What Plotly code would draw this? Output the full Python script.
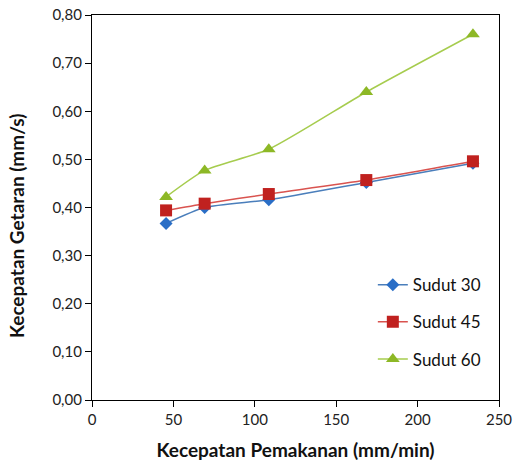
import plotly.graph_objects as go

feed_rate = [45.5, 69.2, 108.6, 168.5, 234.0]
sudut_30 = [0.367, 0.400, 0.416, 0.452, 0.492]
sudut_45 = [0.394, 0.408, 0.428, 0.457, 0.496]
sudut_60 = [0.422, 0.477, 0.521, 0.640, 0.760]

series = [
    ("Sudut 30", sudut_30, "#2A6EC6", "#4A7EBB", "diamond", 10),
    ("Sudut 45", sudut_45, "#C0211F", "#D9534F", "square", 12),
    ("Sudut 60", sudut_60, "#8DB826", "#A6CC4E", "triangle-up", 12),
]

FONT = "Lato"
fig = go.Figure()
for i, (name, vals, mcol, lcol, sym, sz) in enumerate(series):
    fig.add_trace(go.Scatter(
        x=feed_rate, y=vals, name=name, mode="lines+markers",
        line=dict(color=lcol, width=1.5, shape="spline", smoothing=0.6),
        marker=dict(symbol=sym, size=sz, color=mcol),
        legendgroup=f"g{i}",
    ))

fig.add_annotation(
    text="<b>Kecepatan Getaran (mm/s)</b>", textangle=-90,
    xref="paper", yref="paper", x=-0.184, y=0.452,
    xanchor="center", yanchor="middle", showarrow=False,
    font=dict(family=FONT, size=19, color="#111111"),
)

fig.update_layout(
    width=515, height=466,
    margin=dict(l=92, r=16, t=15, b=66),
    paper_bgcolor="white", plot_bgcolor="white",
    separators=",.",
    font=dict(family=FONT, size=15, color="#222222"),
    showlegend=True,
    legend=dict(
        x=0.69, y=0.345, xanchor="left", yanchor="top",
        bgcolor="rgba(0,0,0,0)", tracegroupgap=12,
        font=dict(family=FONT, size=17, color="#111111"),
        traceorder="grouped",
    ),
    xaxis=dict(
        range=[0, 250], tickvals=[0, 50, 100, 150, 200, 250],
        automargin=False,
        showgrid=False, zeroline=False, showline=True, linecolor="black",
        linewidth=1.2, mirror=True, ticks="outside", ticklen=6,
        tickcolor="black", tickfont=dict(family=FONT, size=15),
        title=dict(text="<b>Kecepatan Pemakanan (mm/min)</b>",
                   font=dict(family=FONT, size=19, color="#111111"), standoff=16),
    ),
    yaxis=dict(
        range=[0, 0.8], tickvals=[0, 0.1, 0.2, 0.3, 0.4, 0.5, 0.6, 0.7, 0.8],
        tickformat=".2f", automargin=False,
        showgrid=False, zeroline=False, showline=True, linecolor="black",
        linewidth=1.2, mirror=True, ticks="outside", ticklen=6,
        tickcolor="black", tickfont=dict(family=FONT, size=15),
    ),
)

fig.write_html("out.html")
